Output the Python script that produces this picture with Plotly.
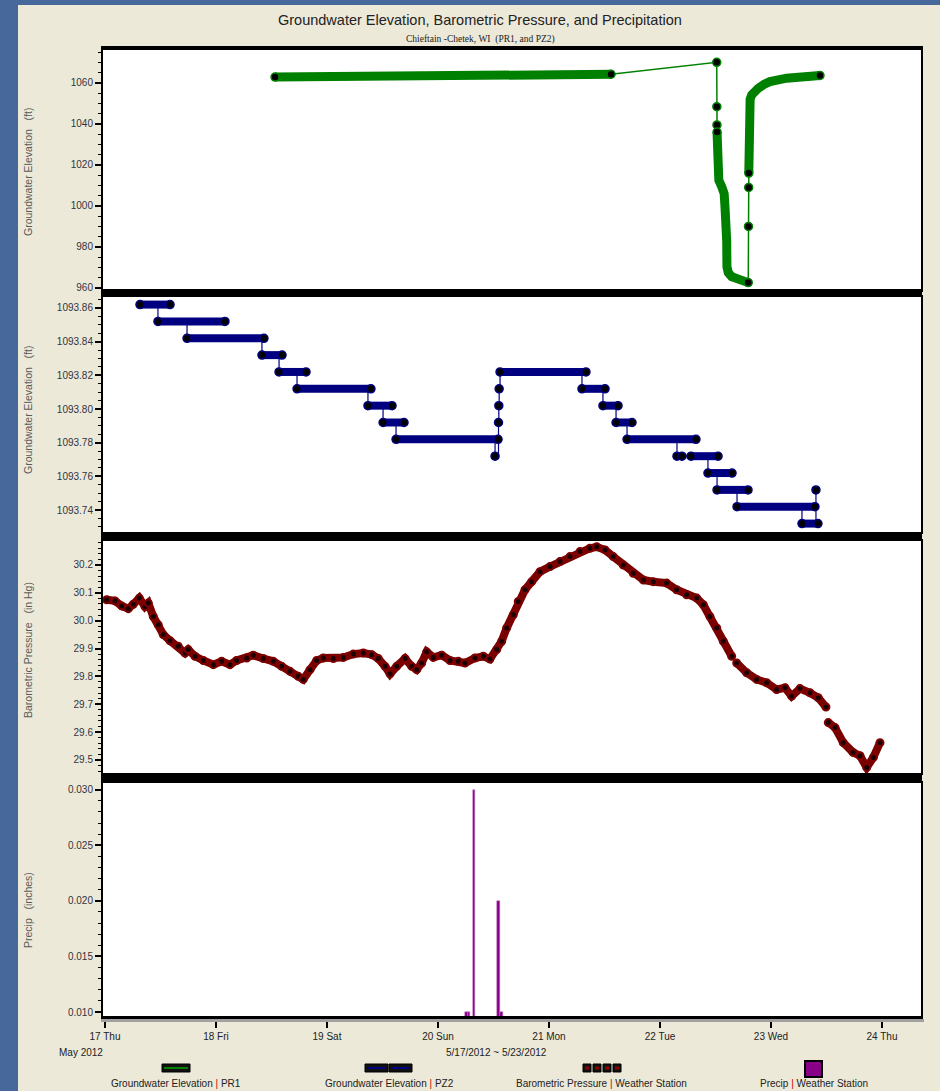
import numpy as np
import pandas as pd
import plotly.graph_objects as go
from plotly.subplots import make_subplots

# ------------------------------------------------------------------ data
# times are fractional day-of-month, May 2012
# PR1 groundwater elevation (ft)
pr1_day = [18.532, 20.050, 21.559, 22.511, 22.512, 22.513, 22.514, 22.516, 22.530, 22.556,
           22.578, 22.585, 22.598, 22.601, 22.603, 22.615, 22.646, 22.721, 22.795, 22.797,
           22.799, 22.800, 22.801, 22.803, 22.812, 22.826, 22.850, 22.886, 22.940, 22.991,
           23.141, 23.322, 23.441]
pr1_ft = [1062.8, 1063.5, 1064.2, 1070.0, 1048.4, 1039.5, 1036.0, 1016.0, 1012.5, 1009.4,
          1006.0, 1000.0, 990.0, 983.0, 970.4, 967.5, 965.5, 963.6, 962.6, 990.0,
          1009.0, 1016.0, 1032.2, 1048.4, 1052.0, 1054.1, 1056.0, 1057.4, 1059.3, 1060.6,
          1062.3, 1063.4, 1063.6]
# periods of dense (continuous) logging
pr1_dense_start = [18.532, 22.514, 22.800]
pr1_dense_end = [21.559, 22.795, 23.441]

# PZ2 groundwater elevation (ft): plateaus of constant reading
pz2_start = [17.315, 17.477, 17.739, 18.414, 18.568, 18.730, 19.369, 19.505, 19.622, 20.559,
             21.297, 21.486, 21.604, 21.703, 22.279, 22.432, 22.514, 22.694, 23.279]
pz2_end = [17.586, 18.081, 18.432, 18.595, 18.811, 19.396, 19.586, 19.694, 20.541, 21.333,
           21.505, 21.622, 21.748, 22.324, 22.523, 22.649, 22.793, 23.396, 23.423]
pz2_level = [1093.862, 1093.852, 1093.842, 1093.832, 1093.822, 1093.812, 1093.802, 1093.792,
             1093.782, 1093.822, 1093.812, 1093.802, 1093.792, 1093.782, 1093.772, 1093.762,
             1093.752, 1093.742, 1093.732]
# isolated single readings
pz2_dot_day = [20.514, 20.545, 20.548, 20.551, 22.153, 22.198, 23.405]
pz2_dot_ft = [1093.772, 1093.792, 1093.802, 1093.812, 1093.772, 1093.772, 1093.752]

# Barometric pressure (in Hg), None = missing data
baro_day = [17.015, 17.090, 17.150, 17.210, 17.255, 17.309, 17.360, 17.390, 17.435, 17.480,
            17.525, 17.586, 17.660, 17.721, 17.750, 17.811, 17.886, 17.976, 18.051, 18.126,
            18.186, 18.277, 18.336, 18.426, 18.516, 18.592, 18.667, 18.741, 18.786, 18.847,
            18.907, 18.967, 19.057, 19.147, 19.237, 19.327, 19.403, 19.462, 19.523, 19.568,
            19.628, 19.703, 19.763, 19.808, 19.853, 19.898, 19.958, 20.033, 20.108, 20.183,
            20.243, 20.333, 20.408, 20.468, 20.529, 20.574, 20.619, 20.678, 20.723, 20.784,
            20.844, 20.919, 21.009, 21.099, 21.189, 21.279, 21.369, 21.430, 21.505, 21.579,
            21.669, 21.759, 21.850, 21.940, 22.060, 22.150, 22.240, 22.331, 22.390, 22.450,
            22.511, 22.570, 22.646, 22.668, 22.691, 22.781, 22.871, 22.961, 23.051, 23.126,
            23.186, 23.261, 23.351, 23.426, 23.495, 23.505, 23.516, 23.577, 23.651, 23.739,
            23.802, 23.862, 23.922, 23.982]
baro_inhg = [30.075, 30.071, 30.053, 30.043, 30.059, 30.081, 30.051, 30.063, 30.015, 29.985,
             29.950, 29.928, 29.908, 29.884, 29.896, 29.872, 29.857, 29.842, 29.854, 29.842,
             29.857, 29.866, 29.876, 29.864, 29.854, 29.836, 29.818, 29.800, 29.789, 29.824,
             29.857, 29.866, 29.864, 29.868, 29.880, 29.884, 29.878, 29.864, 29.836, 29.809,
             29.836, 29.864, 29.836, 29.824, 29.848, 29.888, 29.868, 29.876, 29.857, 29.854,
             29.848, 29.866, 29.872, 29.862, 29.896, 29.926, 29.974, 30.021, 30.069, 30.111,
             30.140, 30.176, 30.194, 30.212, 30.230, 30.248, 30.260, 30.265, 30.254, 30.230,
             30.200, 30.170, 30.146, 30.140, 30.135, 30.111, 30.093, 30.081, 30.057, 30.015,
             29.974, 29.926, 29.872, None, 29.848, 29.813, 29.789, 29.777, 29.753, 29.759,
             29.729, 29.756, 29.741, 29.723, 29.690, None, 29.634, 29.616, 29.562, 29.527,
             29.515, 29.473, 29.509, 29.562]

# Precipitation (inches)
precip_day = [20.258, 20.279, 20.324, 20.543, 20.573]
precip_in = [0.010, 0.010, 0.030, 0.020, 0.010]

day_ticks = [17, 18, 19, 20, 21, 22, 23, 24]

# ------------------------------------------------------------------ helpers
BASE = pd.Timestamp("2012-05-01")


def to_dt(days):
    return [BASE + pd.to_timedelta(d - 1, unit="D") for d in days]


W, H = 940, 1091
ML, MR, MT, MB = 103, 19, 48, 73
PW, PH = W - ML - MR, H - MT - MB


def px_x(px):
    return (px - ML) / PW


def px_y(py):
    return (H - MB - py) / PH


GREEN = "#008000"
NAVY = "#000080"
MAROON = "#7a0000"
PURPLE = "#880088"
FONT = "Liberation Sans Narrow, Arial Narrow, Liberation Sans, Arial, sans-serif"

fig = make_subplots(rows=4, cols=1, shared_xaxes=True)

# ---- PR1
pr1_t = to_dt(pr1_day)
band_x, band_y = [], []
for s, e in zip(pr1_dense_start, pr1_dense_end):
    for d, t, v in zip(pr1_day, pr1_t, pr1_ft):
        if s <= d <= e:
            band_x.append(t)
            band_y.append(v)
    band_x.append(None)
    band_y.append(None)
fig.add_trace(go.Scatter(x=pr1_t, y=pr1_ft, mode="lines", line=dict(color=GREEN, width=1.5),
                         showlegend=False, hoverinfo="skip"), row=1, col=1)
fig.add_trace(go.Scatter(x=band_x, y=band_y, mode="lines", line=dict(color=GREEN, width=9),
                         showlegend=False, hoverinfo="skip"), row=1, col=1)
mk_x, mk_y = [], []
for d, t, v in zip(pr1_day, pr1_t, pr1_ft):
    inside = any(s < d < e for s, e in zip(pr1_dense_start, pr1_dense_end))
    if not inside:
        mk_x.append(t)
        mk_y.append(v)
fig.add_trace(go.Scatter(x=mk_x, y=mk_y, mode="markers",
                         marker=dict(color="#000000", size=8, line=dict(color=GREEN, width=1.5)),
                         showlegend=False, name="Groundwater Elevation | PR1"), row=1, col=1)

# ---- PZ2
events = []
for s, e, lv in zip(pz2_start, pz2_end, pz2_level):
    events.append((s, [(s, lv), (e, lv)]))
for d, lv in zip(pz2_dot_day, pz2_dot_ft):
    events.append((d, [(d, lv)]))
events.sort(key=lambda ev: ev[0])
path_d = [p[0] for ev in events for p in ev[1]]
path_v = [p[1] for ev in events for p in ev[1]]
fig.add_trace(go.Scatter(x=to_dt(path_d), y=path_v, mode="lines", line=dict(color=NAVY, width=1.2, shape="hv"),
                         showlegend=False, hoverinfo="skip"), row=2, col=1)
bx, by = [], []
for s, e, lv in zip(pz2_start, pz2_end, pz2_level):
    bx += [*to_dt([s, e]), None]
    by += [lv, lv, None]
fig.add_trace(go.Scatter(x=bx, y=by, mode="lines", line=dict(color=NAVY, width=8),
                         showlegend=False, hoverinfo="skip"), row=2, col=1)
fig.add_trace(go.Scatter(x=to_dt(path_d), y=path_v, mode="markers",
                         marker=dict(color="#000000", size=8, line=dict(color=NAVY, width=1.5)),
                         showlegend=False, name="Groundwater Elevation | PZ2"), row=2, col=1)

# ---- Barometric
baro_t = to_dt(baro_day)
fig.add_trace(go.Scatter(x=baro_t, y=baro_inhg, mode="lines", line=dict(color=MAROON, width=8),
                         connectgaps=False, showlegend=False, hoverinfo="skip"), row=3, col=1)
fig.add_trace(go.Scatter(x=baro_t, y=baro_inhg, mode="markers",
                         marker=dict(color="#1a0000", size=7, line=dict(color="#800000", width=2)),
                         showlegend=False, name="Barometric Pressure | Weather Station"), row=3, col=1)

# ---- Precip
fig.add_trace(go.Bar(x=to_dt(precip_day), y=precip_in, width=32 * 60 * 1000,
                     marker=dict(color=PURPLE, line=dict(color="#c070c0", width=0.5)),
                     showlegend=False, name="Precip | Weather Station"), row=4, col=1)

# ------------------------------------------------------------------ axes
doms = [(px_y(290), 1.0), (px_y(532), px_y(297)), (px_y(773), px_y(541)), (0.0, px_y(783))]
yspecs = [
    dict(range=[959.0, 1077.0], dtick=20, tick0=960, minor=5, fmt="d"),
    dict(range=[1093.727, 1093.8665], dtick=0.02, tick0=1093.74, minor=0.005, fmt=".2f"),
    dict(range=[29.453, 30.286], dtick=0.1, tick0=29.5, minor=0.02, fmt=".1f"),
    dict(range=[0.00946, 0.0306], dtick=0.005, tick0=0.01, minor=0.001, fmt=".3f"),
]
for i, (dom, sp) in enumerate(zip(doms, yspecs), start=1):
    fig.update_yaxes(row=i, col=1, domain=list(dom), range=sp["range"], dtick=sp["dtick"], tick0=sp["tick0"],
                     tickformat=sp["fmt"], ticks="outside", ticklen=6, tickwidth=1.5, tickcolor="black",
                     showline=True, linecolor="black", linewidth=2, mirror=True, showgrid=False,
                     zeroline=False, tickfont=dict(family=FONT, size=10, color="#333340"),
                     minor=dict(dtick=sp["minor"], ticks="outside", ticklen=3, tickwidth=1,
                                tickcolor="black", showgrid=False))

x0 = BASE + pd.to_timedelta(17 + (ML - 105) / 111.0 - 1, unit="D")
x1 = BASE + pd.to_timedelta(17 + (W - MR - 105) / 111.0 - 1, unit="D")
fig.update_xaxes(range=[x0, x1], showgrid=False, zeroline=False, showline=True, linecolor="black",
                 linewidth=2, mirror=True)
fig.update_xaxes(row=4, col=1, tickvals=to_dt(day_ticks), tickformat="%d %a", ticks="outside", ticklen=8,
                 tickwidth=1.5, tickcolor="black", showticklabels=True,
                 tickfont=dict(family=FONT, size=10, color="#222222"))
for i in (1, 2, 3):
    fig.update_xaxes(row=i, col=1, showticklabels=False, ticks="")

# ------------------------------------------------------------------ decorations
shapes = []
# blue window background strips
shapes.append(dict(type="rect", xref="paper", yref="paper", x0=px_x(0), x1=px_x(18), y0=px_y(H), y1=px_y(0),
                   fillcolor="#46689a", line=dict(width=0), layer="below"))
shapes.append(dict(type="rect", xref="paper", yref="paper", x0=px_x(0), x1=px_x(W), y0=px_y(5), y1=px_y(0),
                   fillcolor="#46689a", line=dict(width=0), layer="below"))
# thick separators between panels
for top, bot in [(289, 297), (532, 541), (773, 783)]:
    shapes.append(dict(type="rect", xref="paper", yref="paper", x0=px_x(101), x1=px_x(W - MR + 1),
                       y0=px_y(bot), y1=px_y(top), fillcolor="black", line=dict(width=0), layer="above"))
shapes.append(dict(type="rect", xref="paper", yref="paper", x0=px_x(101), x1=px_x(W - MR + 1),
                   y0=px_y(50), y1=px_y(47), fillcolor="black", line=dict(width=0), layer="above"))
shapes.append(dict(type="rect", xref="paper", yref="paper", x0=px_x(101), x1=px_x(W - MR + 1),
                   y0=px_y(1019), y1=px_y(1016), fillcolor="black", line=dict(width=0), layer="above"))
shapes.append(dict(type="rect", xref="paper", yref="paper", x0=px_x(101), x1=px_x(W - MR + 3),
                   y0=px_y(1022), y1=px_y(1019), fillcolor="#a0a0a0", line=dict(width=0), layer="above"))


def rect(x0, x1, y0, y1, fill, lc="black", lw=1):
    shapes.append(dict(type="rect", xref="paper", yref="paper", x0=px_x(x0), x1=px_x(x1),
                       y0=px_y(y1), y1=px_y(y0), fillcolor=fill, line=dict(color=lc, width=lw)))


# legend swatches
rect(162, 190, 1064, 1072, "#111111")
rect(164, 188, 1067, 1069, GREEN, GREEN, 0)
for a in (365, 389):
    rect(a, a + 23, 1064, 1072, "#111111")
    rect(a + 2, a + 21, 1067, 1069, NAVY, NAVY, 0)
for a in (583, 593, 603, 613):
    rect(a, a + 8, 1064, 1072, "#111111")
    rect(a + 2, a + 6, 1066.5, 1069.5, "#8b0000", "#8b0000", 0)
rect(805, 822, 1061, 1077, PURPLE, "black", 2)

ann = []


def text(px, py, s, size=10, color="#222222", family=FONT, angle=0, xanchor="center"):
    ann.append(dict(text=s, x=px_x(px), y=px_y(py), xref="paper", yref="paper", showarrow=False,
                    font=dict(size=size, color=color, family=family), textangle=angle,
                    xanchor=xanchor, yanchor="middle"))


text(480, 20, "Groundwater Elevation, Barometric Pressure, and Precipitation", size=14.5,
     family="Liberation Sans, Arial, sans-serif", color="#222222")
text(480, 39, "Chieftain -Chetek, WI\u00a0 (PR1, and PZ2)", size=9.5,
     family="Liberation Serif, Times New Roman, serif", color="#222222")
sp = "\u00a0\u00a0\u00a0"
text(28, 172, "Groundwater Elevation" + sp + "(ft)", size=10.5, color="#5a5a5a", angle=-90)
text(28, 410, "Groundwater Elevation" + sp + "(ft)", size=10.5, color="#5a5a5a", angle=-90)
text(28, 650, "Barometric Pressure" + sp + "(in Hg)", size=10.5, color="#5a5a5a", angle=-90)
text(28, 910, "Precip" + sp + "(inches)", size=10.5, color="#5a5a5a", angle=-90)
text(81, 1052, "May 2012", size=10)
text(496, 1052, "5/17/2012 ~ 5/23/2012", size=10)
bar = "<span style='color:#d00000'>|</span>"
text(176, 1083, "Groundwater Elevation " + bar + " PR1", size=10)
text(389, 1083, "Groundwater Elevation " + bar + " PZ2", size=10)
text(601, 1083, "Barometric Pressure " + bar + " Weather Station", size=10)
text(814, 1083, "Precip " + bar + " Weather Station", size=10)

fig.update_layout(width=W, height=H, margin=dict(l=ML, r=MR, t=MT, b=MB, pad=0),
                  paper_bgcolor="#ece9d8", plot_bgcolor="white", shapes=shapes, annotations=ann,
                  showlegend=False, bargap=0, font=dict(family=FONT))

fig.write_html("out.html", config={"displayModeBar": False},
               post_script="document.body.style.margin='0';document.body.style.padding='0';"
                           "document.body.style.overflow='hidden';")
